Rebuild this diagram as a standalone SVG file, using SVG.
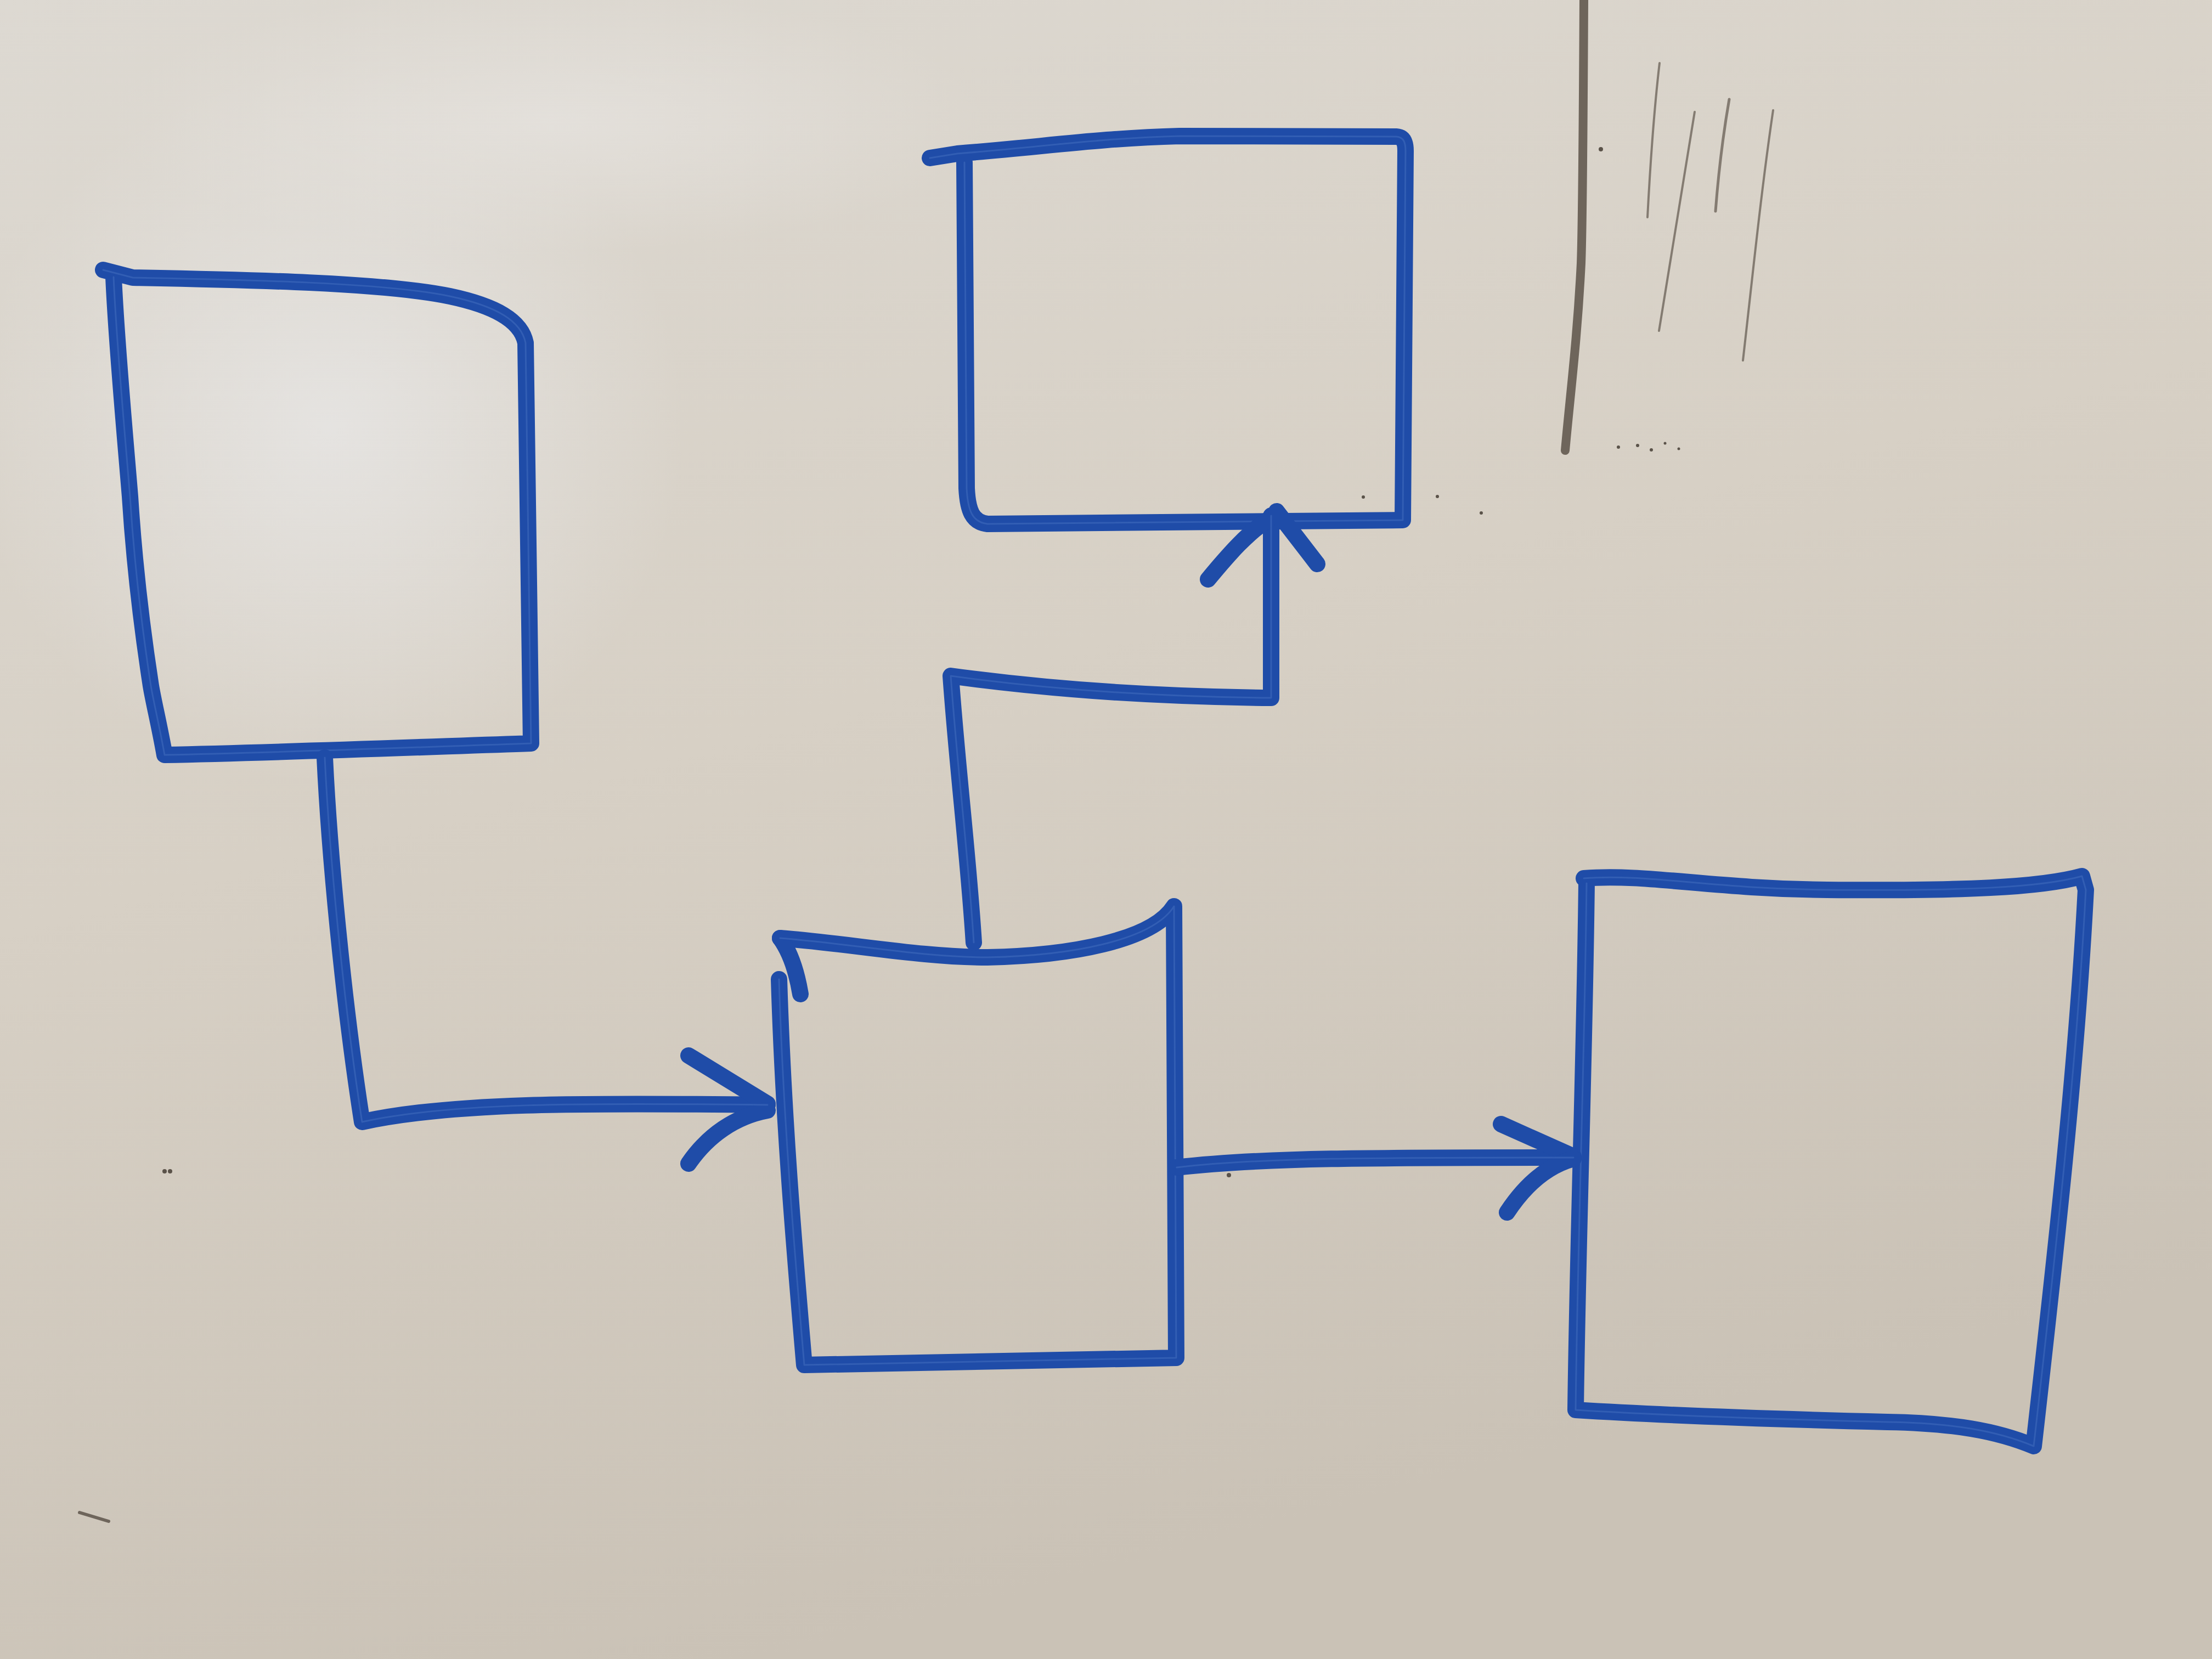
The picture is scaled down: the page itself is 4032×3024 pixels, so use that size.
<svg xmlns="http://www.w3.org/2000/svg" xmlns:xlink="http://www.w3.org/1999/xlink" width="4032" height="3024" viewBox="0 0 4032 3024">
  <style>
    .ink { fill: none; stroke: #1f4ca8; stroke-width: 30; stroke-linecap: round; stroke-linejoin: round; }
    .sheen { fill: none; stroke: #6a92d8; stroke-width: 3; stroke-linecap: round; stroke-linejoin: round; opacity: 0.25; }
    .scratch { fill: none; stroke: #6e655b; stroke-linecap: round; }
  </style>
  <defs>
    <linearGradient id="board" x1="0" y1="0" x2="0.35" y2="1">
      <stop offset="0" stop-color="#ddd9d2"/>
      <stop offset="0.5" stop-color="#d7d0c5"/>
      <stop offset="1" stop-color="#cac2b6"/>
    </linearGradient>
    <radialGradient id="glare" cx="600" cy="780" r="650" gradientUnits="userSpaceOnUse">
      <stop offset="0" stop-color="#e8e7e6" stop-opacity="0.8"/>
      <stop offset="1" stop-color="#e8e7e6" stop-opacity="0"/>
    </radialGradient>
    <radialGradient id="glare2" cx="1000" cy="220" r="800" gradientUnits="userSpaceOnUse" gradientTransform="translate(1000 220) scale(1 0.3) translate(-1000 -220)">
      <stop offset="0" stop-color="#e6e3df" stop-opacity="0.75"/>
      <stop offset="1" stop-color="#e6e3df" stop-opacity="0"/>
    </radialGradient>
  </defs>

  <rect width="4032" height="3024" fill="url(#board)"/>
  <rect width="4032" height="3024" fill="url(#glare)"/>
  <rect width="4032" height="3024" fill="url(#glare2)"/>

  <!-- board marks (not part of diagram) -->
  <g id="board-marks">
    <path class="scratch" stroke-width="16" stroke="#5e564e" d="M2887,0 C2886,200 2885,400 2882,480 C2875,620 2862,720 2853,821"/>
    <path class="scratch" stroke-width="4" opacity="0.8" d="M3025,115 C3015,200 3008,300 3003,396"/>
    <path class="scratch" stroke-width="4" opacity="0.8" d="M3089,204 C3065,350 3045,480 3024,603"/>
    <path class="scratch" stroke-width="5" opacity="0.8" d="M3152,181 C3140,250 3132,320 3127,385"/>
    <path class="scratch" stroke-width="4" opacity="0.8" d="M3232,201 C3210,350 3195,500 3177,657"/>
    <g fill="#5a5249">
      <circle cx="2918" cy="272" r="4"/>
      <circle cx="2950" cy="815" r="3"/>
      <circle cx="2985" cy="812" r="3"/>
      <circle cx="3010" cy="820" r="3"/>
      <circle cx="3035" cy="808" r="2.5"/>
      <circle cx="3060" cy="818" r="2.5"/>
      <circle cx="2485" cy="906" r="3"/>
      <circle cx="2620" cy="905" r="3"/>
      <circle cx="2700" cy="935" r="3"/>
      <circle cx="300" cy="2135" r="4"/>
      <circle cx="310" cy="2135" r="4"/>
      <circle cx="2240" cy="2142" r="4"/>
    </g>
    <path class="scratch" stroke-width="6" stroke="#3a342e" d="M145,2757 L198,2773"/>
  </g>

  <!-- Node A: top-left box -->
  <g id="node-a" class="ink">
    <path id="pa" d="M188,492 L242,506 C450,510 700,515 820,540 C905,558 950,585 958,625 L968,1355 C760,1362 500,1372 300,1376 C290,1320 280,1280 275,1250 C255,1120 243,1000 237,905 C225,760 212,620 207,505"/>
  </g>
  <use xlink:href="#pa" class="sheen"/>

  <!-- Node B: top-middle box -->
  <g id="node-b" class="ink">
    <path id="pb" d="M1695,288 L1745,280 C1900,268 2000,252 2150,248 L2545,249 C2560,250 2562,262 2562,275 L2557,948 L1800,955 C1772,952 1764,930 1762,890 L1758,296"/>
  </g>
  <use xlink:href="#pb" class="sheen"/>

  <!-- Node C: middle box -->
  <g id="node-c" class="ink">
    <path id="pc1" d="M1422,1710 C1550,1720 1680,1745 1800,1745 C1950,1742 2100,1715 2140,1652 L2144,2475 L1466,2488 C1450,2300 1428,2050 1420,1785"/>
    <path id="pc2" d="M1422,1710 C1440,1735 1452,1770 1459,1812"/>
  </g>
  <use xlink:href="#pc1" class="sheen"/>

  <!-- Node D: right box -->
  <g id="node-d" class="ink">
    <path id="pd" d="M2887,1601 C3000,1592 3120,1620 3330,1622 C3580,1624 3720,1618 3795,1597 L3802,1622 C3785,1950 3745,2300 3707,2636 C3640,2608 3560,2594 3440,2592 C3200,2586 3000,2578 2872,2570 C2876,2250 2888,1950 2892,1610"/>
  </g>
  <use xlink:href="#pd" class="sheen"/>

  <!-- Connectors -->
  <g id="connectors" class="ink">
    <path id="c1" d="M592,1381 C600,1550 625,1820 660,2045 C820,2010 1050,2010 1399,2014"/>
    <path d="M1255,1924 L1399,2012"/>
    <path d="M1255,2121 C1290,2070 1340,2035 1399,2024"/>

    <path id="c2" d="M1775,1718 C1765,1560 1745,1400 1733,1232 C1900,1255 2100,1270 2317,1272 L2317,940"/>
    <path d="M2202,1056 C2240,1010 2275,970 2315,945"/>
    <path d="M2401,1028 L2327,932"/>

    <path id="c3" d="M2145,2128 C2300,2110 2500,2110 2868,2110"/>
    <path d="M2736,2049 L2868,2108"/>
    <path d="M2747,2210 C2780,2160 2820,2125 2868,2112"/>
  </g>
  <use xlink:href="#c1" class="sheen"/>
  <use xlink:href="#c2" class="sheen"/>
  <use xlink:href="#c3" class="sheen"/>
</svg>
